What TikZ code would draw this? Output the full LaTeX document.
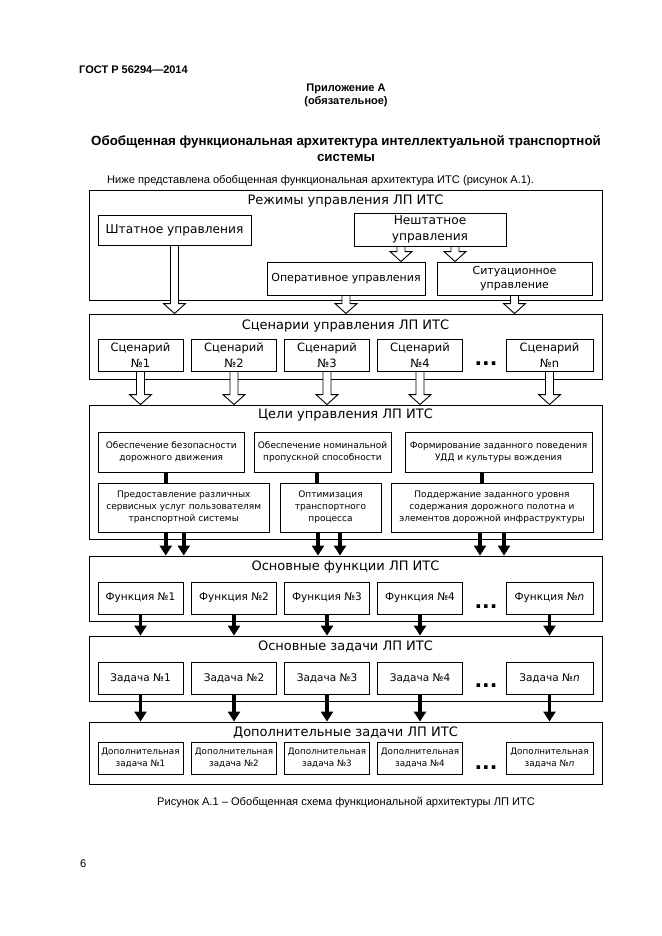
\documentclass[tikz,border=0pt]{standalone}
\usepackage{fontspec}
\setmainfont{Liberation Sans}
\newfontfamily\dvfont{DejaVu Sans}
\usetikzlibrary{arrows.meta,calc}

\tikzset{
  frame/.style={draw, line width=0.9pt, inner sep=0pt},
  pagetext/.style={inner sep=0pt, font=\fontsize{11.1}{13}\selectfont},
  headtext/.style={inner sep=0pt, align=center, font=\bfseries\fontsize{11}{13}\selectfont},
  title/.style={inner sep=0pt, font=\dvfont\fontsize{13}{16}\selectfont},
  bigbox/.style={frame, align=center, font=\dvfont\fontsize{12.2}{16}\selectfont},
  scenbox/.style={frame, align=center, minimum width=85, minimum height=32, font=\dvfont\fontsize{11.5}{16}\selectfont},
  midbox/.style={frame, align=center, font=\dvfont\fontsize{11}{14}\selectfont},
  smallbox/.style={frame, align=center, font=\dvfont\fontsize{9}{12}\selectfont},
  numbox/.style={frame, minimum width=85, minimum height=32, font=\dvfont\fontsize{10.5}{13}\selectfont},
  extrabox/.style={frame, align=center, minimum width=85, minimum height=32, font=\dvfont\fontsize{8.8}{12}\selectfont},
  dots/.style={inner sep=0pt, font=\dvfont\bfseries\fontsize{20}{20}\selectfont},
  hollow/.style={draw, fill=white, line width=0.9pt, line join=miter},
  solidarrow/.style={line width=3.5pt, -{Triangle[width=12pt,length=10pt]}},
  bar/.style={line width=4pt}
}

% hollow block arrow from #1 straight down to the level of #2
\newcommand{\hollowarrow}[2]{%
  \draw[hollow] let \p1=(#1), \p2=(#2) in
    (\x1-4pt,\y1) -- (\x1-4pt,\y2+10pt) -- (\x1-11pt,\y2+10pt) -- (\x1,\y2)
    -- (\x1+11pt,\y2+10pt) -- (\x1+4pt,\y2+10pt) -- (\x1+4pt,\y1) -- cycle;}

\begin{document}
\begin{tikzpicture}[x=1pt,y=-1pt]
\useasboundingbox (0,0) rectangle (661,936);
\fill[white] (0,0) rectangle (661,936);

% page text
\node[headtext, anchor=west] (gost) at (79,70) {ГОСТ Р 56294—2014};
\node[headtext] (annex) at (346,95.5) {Приложение А\\(обязательное)};
\node[inner sep=0pt, align=center, font=\bfseries\fontsize{13.3}{16}\selectfont] (heading) at (346,149)
  {Обобщенная функциональная архитектура интеллектуальной транспортной\\системы};
\node[pagetext, anchor=west] (intro) at (107,181) {Ниже представлена обобщенная функциональная архитектура ИТС (рисунок А.1).};

% outer frames
\node[frame, minimum width=513, minimum height=110] (modes) at (345.5,245) {};
\node[frame, minimum width=513, minimum height=65] (scen) at (345.5,346.5) {};
\node[frame, minimum width=513, minimum height=134] (goals) at (345.5,472) {};
\node[frame, minimum width=513, minimum height=65] (funcs) at (345.5,588.5) {};
\node[frame, minimum width=513, minimum height=65] (tasks) at (345.5,668.5) {};
\node[frame, minimum width=513, minimum height=62] (extra) at (345.5,753) {};

\node[title] (modesT) at (345.5,201) {Режимы управления ЛП ИТС};
\node[title] (scenT) at (345.5,326) {Сценарии управления ЛП ИТС};
\node[title] (goalsT) at (345.5,415) {Цели управления ЛП ИТС};
\node[title] (funcsT) at (345.5,567) {Основные функции ЛП ИТС};
\node[title] (tasksT) at (345.5,647) {Основные задачи ЛП ИТС};
\node[title] (extraT) at (345.5,733) {Дополнительные задачи ЛП ИТС};

% modes
\node[bigbox, minimum width=153, minimum height=30] (shtat) at (174.5,230) {Штатное управления};
\node[bigbox, minimum width=152, minimum height=33] (nesht) at (430,229.5) {Нештатное\\управления};
\node[midbox, minimum width=158, minimum height=33] (oper) at (346,278.5) {Оперативное управления};
\node[midbox, minimum width=155, minimum height=33] (situ) at (514.5,278.5) {Ситуационное\\управление};

% scenarios
\node[scenbox] (s1) at (140.5,355) {Сценарий\\№1};
\node[scenbox] (s2) at (234,355) {Сценарий\\№2};
\node[scenbox] (s3) at (327,355) {Сценарий\\№3};
\node[scenbox] (s4) at (420,355) {Сценарий\\№4};
\node[dots] (sdots) at (486,364) {...};
\node[scenbox, minimum width=87] (sn) at (549.5,355) {Сценарий\\№n};

% goals
\node[smallbox, minimum width=145.5, minimum height=40] (gA) at (171.25,452) {Обеспечение безопасности\\дорожного движения};
\node[smallbox, minimum width=137, minimum height=40] (gB) at (322.5,452) {Обеспечение номинальной\\пропускной способности};
\node[smallbox, minimum width=187, minimum height=40] (gC) at (498.5,452) {Формирование заданного поведения\\УДД и культуры вождения};
\node[smallbox, minimum width=170.5, minimum height=49] (pA) at (183.75,507.5) {Предоставление различных\\сервисных услуг пользователям\\транспортной системы};
\node[smallbox, minimum width=101, minimum height=49] (pB) at (330.5,507.5) {Оптимизация\\транспортного\\процесса};
\node[smallbox, minimum width=202, minimum height=49] (pC) at (492,507.5) {Поддержание заданного уровня\\содержания дорожного полотна и\\элементов дорожной инфраструктуры};

\draw[bar] ([xshift=-5pt]gA.south) -- ([xshift=-5pt]gA.south |- pA.north);
\draw[bar] ([xshift=-5.5pt]gB.south) -- ([xshift=-5.5pt]gB.south |- pB.north);
\draw[bar] ([xshift=-16.5pt]gC.south) -- ([xshift=-16.5pt]gC.south |- pC.north);

% functions
\node[numbox] (f1) at (140.5,598) {Функция №1};
\node[numbox] (f2) at (234,598) {Функция №2};
\node[numbox] (f3) at (327,598) {Функция №3};
\node[numbox] (f4) at (420,598) {Функция №4};
\node[dots] (fdots) at (486,607) {...};
\node[numbox, minimum width=87] (fn) at (549.5,598) {Функция №\textit{n}};

% tasks
\node[numbox] (t1) at (140.5,678) {Задача №1};
\node[numbox] (t2) at (234,678) {Задача №2};
\node[numbox] (t3) at (327,678) {Задача №3};
\node[numbox] (t4) at (420,678) {Задача №4};
\node[dots] (tdots) at (486,686) {...};
\node[numbox, minimum width=87] (tn) at (549.5,678) {Задача №\textit{n}};

% extra tasks
\node[extrabox] (e1) at (140.5,758) {Дополнительная\\задача №1};
\node[extrabox] (e2) at (234,758) {Дополнительная\\задача №2};
\node[extrabox] (e3) at (327,758) {Дополнительная\\задача №3};
\node[extrabox] (e4) at (420,758) {Дополнительная\\задача №4};
\node[dots] (edots) at (486,768) {...};
\node[extrabox, minimum width=87] (en) at (549.5,758) {Дополнительная\\задача №\textit{n}};

% hollow arrows
\hollowarrow{shtat.south}{scen.north}
\hollowarrow{[xshift=-29pt]nesht.south}{oper.north}
\hollowarrow{[xshift=25pt]nesht.south}{situ.north}
\hollowarrow{oper.south}{scen.north}
\hollowarrow{situ.south}{scen.north}

\hollowarrow{s1.south}{goals.north}
\hollowarrow{s2.south}{goals.north}
\hollowarrow{s3.south}{goals.north}
\hollowarrow{s4.south}{goals.north}
\hollowarrow{sn.south}{goals.north}

% solid arrows
\draw[solidarrow] ([xshift=-18pt]pA.south) -- ([xshift=-18pt]pA.south |- funcs.north);
\draw[solidarrow] (pA.south) -- (pA.south |- funcs.north);
\draw[solidarrow] ([xshift=-12.5pt]pB.south) -- ([xshift=-12.5pt]pB.south |- funcs.north);
\draw[solidarrow] ([xshift=9.5pt]pB.south) -- ([xshift=9.5pt]pB.south |- funcs.north);
\draw[solidarrow] ([xshift=-12pt]pC.south) -- ([xshift=-12pt]pC.south |- funcs.north);
\draw[solidarrow] ([xshift=12pt]pC.south) -- ([xshift=12pt]pC.south |- funcs.north);

\draw[solidarrow] (f1.south) -- (f1.south |- tasks.north);
\draw[solidarrow] (f2.south) -- (f2.south |- tasks.north);
\draw[solidarrow] (f3.south) -- (f3.south |- tasks.north);
\draw[solidarrow] (f4.south) -- (f4.south |- tasks.north);
\draw[solidarrow] (fn.south) -- (fn.south |- tasks.north);

\draw[solidarrow] (t1.south) -- (t1.south |- extra.north);
\draw[solidarrow] (t2.south) -- (t2.south |- extra.north);
\draw[solidarrow] (t3.south) -- (t3.south |- extra.north);
\draw[solidarrow] (t4.south) -- (t4.south |- extra.north);
\draw[solidarrow] (tn.south) -- (tn.south |- extra.north);

% caption and page number
\node[pagetext] (caption) at (346,803) {Рисунок А.1 – Обобщенная схема функциональной архитектуры ЛП ИТС};
\node[pagetext, anchor=west] (page) at (80,864) {6};
\end{tikzpicture}
\end{document}
